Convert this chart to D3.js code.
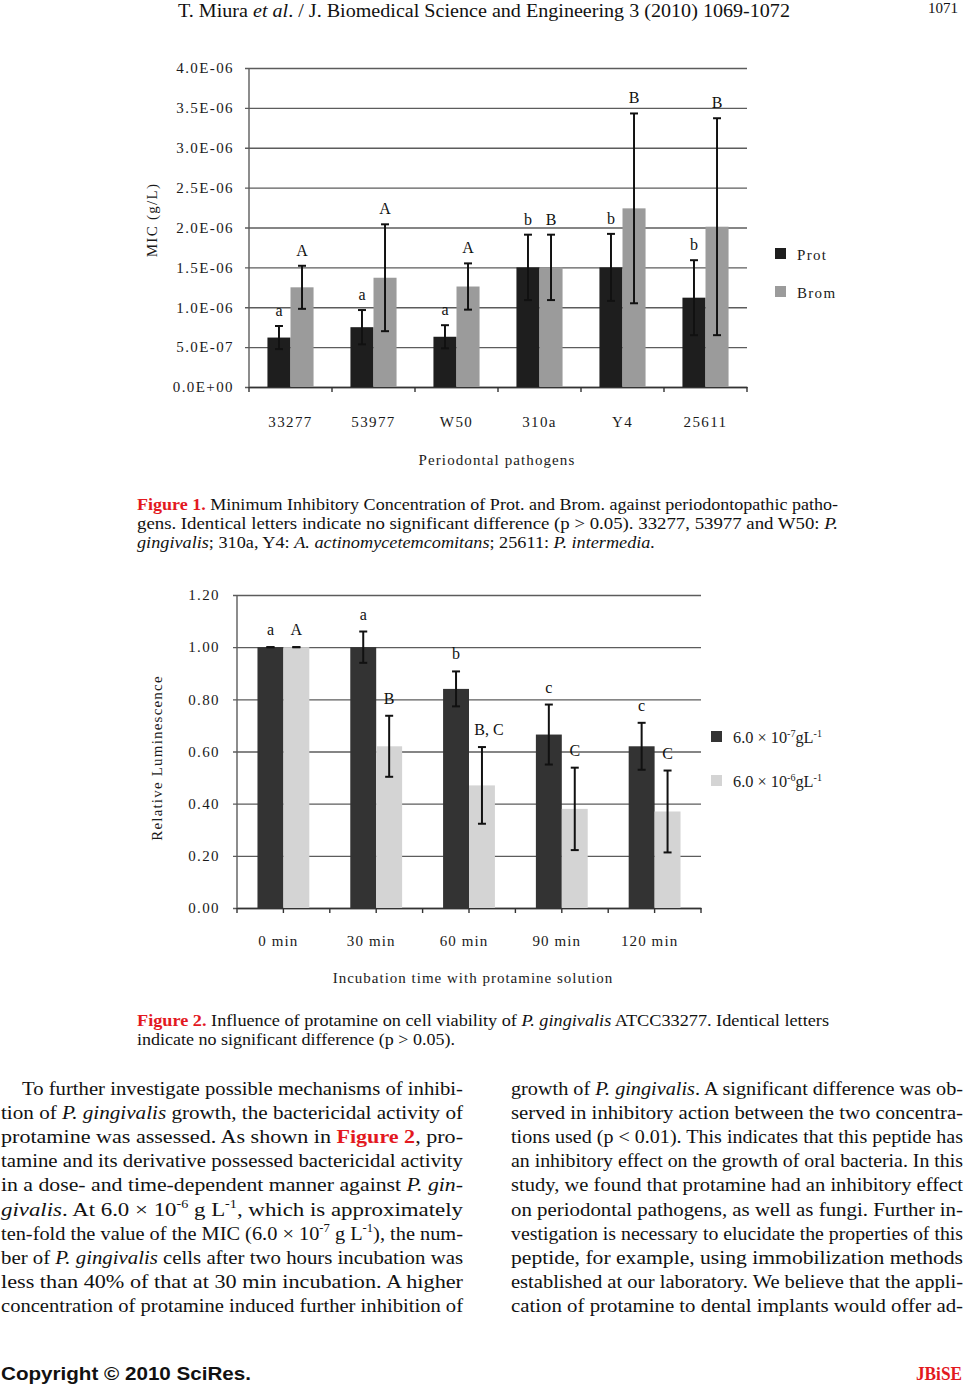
<!DOCTYPE html>
<html>
<head>
<meta charset="utf-8">
<script src="https://cdn.jsdelivr.net/npm/d3@7"></script>
<style>
html,body{margin:0;padding:0;background:#fff;}
svg{display:block;}
</style>
</head>
<body>
<script>
// ---------- Figure 1 data ----------
const strains = ["33277", "53977", "W50", "310a", "Y4", "25611"];
const seriesNames1 = ["Prot", "Brom"];
const protMIC = [6.2e-7, 7.5e-7, 6.3e-7, 1.5e-6, 1.5e-6, 1.12e-6];
const protErr = [1.45e-7, 2.15e-7, 1.45e-7, 4.1e-7, 4.2e-7, 4.7e-7];
const bromMIC = [1.25e-6, 1.37e-6, 1.26e-6, 1.5e-6, 2.24e-6, 2.01e-6];
const bromErr = [2.7e-7, 6.7e-7, 2.9e-7, 4.1e-7, 1.19e-6, 1.36e-6];
const protLetters = ["a", "a", "a", "b", "b", "b"];
const bromLetters = ["A", "A", "A", "B", "B", "B"];
const yTicks1 = [0, 5e-7, 1e-6, 1.5e-6, 2e-6, 2.5e-6, 3e-6, 3.5e-6, 4e-6];
const yTickLabels1 = ["0.0E+00", "5.0E-07", "1.0E-06", "1.5E-06", "2.0E-06", "2.5E-06", "3.0E-06", "3.5E-06", "4.0E-06"];

// ---------- Figure 2 data ----------
const times = ["0 min", "30 min", "60 min", "90 min", "120 min"];
const seriesNames2 = ["low", "high"];
const lowDose = [1.00, 1.00, 0.84, 0.665, 0.62];
const lowErr = [0, 0.06, 0.067, 0.115, 0.09];
const highDose = [1.00, 0.62, 0.47, 0.38, 0.37];
const highErr = [0, 0.117, 0.147, 0.158, 0.157];
const lowLetters = ["a", "a", "b", "c", "c"];
const highLetters = ["A", "B", "B, C", "C", "C"];
const yTicks2 = [0, 0.2, 0.4, 0.6, 0.8, 1.0, 1.2];
const yTickLabels2 = ["0.00", "0.20", "0.40", "0.60", "0.80", "1.00", "1.20"];

const SERIF = "'Liberation Serif', 'Times New Roman', serif";
const SANS = "'Liberation Sans', Arial, sans-serif";
const RED = "#e3191f";

const svg = d3.select("body").append("svg").attr("width", 967).attr("height", 1386);
svg.append("rect").attr("width", 967).attr("height", 1386).attr("fill", "#fff");

// ---------- rich text helper ----------
function richLine(g, str, x, y, size, opts) {
  opts = opts || {};
  const t = g.append("text").attr("x", x).attr("y", y)
    .attr("font-family", SERIF).attr("font-size", size).attr("fill", "#111");
  if (opts.len) t.attr("textLength", opts.len).attr("lengthAdjust", "spacingAndGlyphs");
  const parts = str.split(/(<\/?(?:i|r|sup)>)/);
  let ital = false, red = false, sup = false, pendingDown = false;
  parts.forEach(p => {
    if (p === "<i>") { ital = true; return; }
    if (p === "</i>") { ital = false; return; }
    if (p === "<r>") { red = true; return; }
    if (p === "</r>") { red = false; return; }
    if (p === "<sup>") { sup = true; return; }
    if (p === "</sup>") { sup = false; pendingDown = true; return; }
    if (!p) return;
    const ts = t.append("tspan").text(p);
    if (ital) ts.attr("font-style", "italic");
    if (red) ts.attr("fill", RED).attr("font-weight", "bold");
    if (sup) { ts.attr("font-size", size * 0.62).attr("dy", -size * 0.38); }
    else if (pendingDown) { ts.attr("dy", size * 0.38); pendingDown = false; }
  });
  return t;
}

// ---------- header ----------
richLine(svg, "T. Miura <i>et al</i>. / J. Biomedical Science and Engineering 3 (2010) 1069-1072", 178, 17, 19, {len: 612});
richLine(svg, "1071", 928, 13, 15, {len: 30});

// ---------- Figure 1 ----------
(function () {
  const g = svg.append("g");
  const L = 249, R = 747, T = 68, B = 387;
  const x = d3.scaleBand().domain(strains).range([L, R]);
  const xs = d3.scaleBand().domain(seriesNames1).range([0, x.bandwidth()]).paddingOuter(0.8).paddingInner(0);
  const y = d3.scaleLinear().domain([0, 4e-6]).range([B, T]);
  const colors = {Prot: "#1e1e1e", Brom: "#9b9b9b"};

  const ya = g.append("g").attr("transform", `translate(${L},0)`)
    .call(d3.axisLeft(y).tickValues(yTicks1).tickFormat((d, i) => yTickLabels1[i])
      .tickSize(-(R - L)).tickPadding(15).tickSizeOuter(0));
  ya.select(".domain").remove();
  ya.selectAll(".tick line").attr("x1", -4).attr("stroke", "#5c5c5c").attr("stroke-width", 1.4);
  ya.selectAll(".tick text").attr("font-family", SERIF).attr("font-size", 15)
    .attr("letter-spacing", "1.4px").attr("fill", "#1a1a1a");
  g.append("line").attr("x1", L).attr("x2", L).attr("y1", T).attr("y2", B).attr("stroke", "#5c5c5c").attr("stroke-width", 1.4);

  const xa = g.append("g").attr("transform", `translate(0,${B})`)
    .call(d3.axisBottom(x).tickSize(0).tickPadding(29));
  xa.select(".domain").attr("stroke", "#333").attr("stroke-width", 1.4);
  xa.selectAll(".tick text").attr("font-family", SERIF).attr("font-size", 15)
    .attr("letter-spacing", "1.4px").attr("fill", "#1a1a1a");
  g.selectAll(".xt1").data(strains.concat(["__end"])).enter().append("line")
    .attr("x1", d => d === "__end" ? R : x(d)).attr("x2", d => d === "__end" ? R : x(d))
    .attr("y1", B).attr("y2", B + 5).attr("stroke", "#333").attr("stroke-width", 1.4);

  const data = strains.map((s, i) => [
    {cat: s, key: "Prot", v: protMIC[i], e: protErr[i], l: protLetters[i]},
    {cat: s, key: "Brom", v: bromMIC[i], e: bromErr[i], l: bromLetters[i]}
  ]).flat();

  g.selectAll(".bar1").data(data).enter().append("rect")
    .attr("x", d => x(d.cat) + xs(d.key)).attr("width", xs.bandwidth())
    .attr("y", d => y(d.v)).attr("height", d => B - y(d.v)).attr("fill", d => colors[d.key]);

  const cx = d => x(d.cat) + xs(d.key) + xs.bandwidth() / 2;
  const eb = g.selectAll(".eb1").data(data).enter().append("g").attr("stroke", "#111").attr("stroke-width", 2);
  eb.append("line").attr("x1", cx).attr("x2", cx).attr("y1", d => y(d.v + d.e)).attr("y2", d => y(d.v - d.e));
  eb.append("line").attr("x1", d => cx(d) - 4).attr("x2", d => cx(d) + 4).attr("y1", d => y(d.v + d.e)).attr("y2", d => y(d.v + d.e));
  eb.append("line").attr("x1", d => cx(d) - 4).attr("x2", d => cx(d) + 4).attr("y1", d => y(d.v - d.e)).attr("y2", d => y(d.v - d.e));

  g.selectAll(".lt1").data(data).enter().append("text")
    .attr("x", cx).attr("y", d => y(d.v + d.e) - 10).attr("text-anchor", "middle")
    .attr("font-family", SERIF).attr("font-size", 16).attr("fill", "#111").text(d => d.l);

  g.append("text").attr("transform", "translate(157,220) rotate(-90)").attr("text-anchor", "middle")
    .attr("font-family", SERIF).attr("font-size", 15).attr("letter-spacing", "1.3px").attr("fill", "#1a1a1a").text("MIC (g/L)");
  g.append("text").attr("x", 497).attr("y", 465).attr("text-anchor", "middle")
    .attr("font-family", SERIF).attr("font-size", 15).attr("letter-spacing", "1.1px").attr("fill", "#1a1a1a").text("Periodontal pathogens");

  const lg = g.selectAll(".lg1").data(seriesNames1).enter().append("g")
    .attr("transform", (d, i) => `translate(775,${248 + i * 38})`);
  lg.append("rect").attr("width", 11).attr("height", 11).attr("fill", d => colors[d]);
  lg.append("text").attr("x", 22).attr("y", 12).attr("font-family", SERIF).attr("font-size", 15)
    .attr("letter-spacing", "1.3px").attr("fill", "#1a1a1a").text(d => d);
})();

// ---------- Figure 1 caption ----------
richLine(svg, "<r>Figure 1.</r> Minimum Inhibitory Concentration of Prot. and Brom. against periodontopathic patho-", 137, 510, 16, {len: 701});
richLine(svg, "gens. Identical letters indicate no significant difference (p > 0.05). 33277, 53977 and W50: <i>P.</i>", 137, 529, 16, {len: 701});
richLine(svg, "<i>gingivalis</i>; 310a, Y4: <i>A. actinomycetemcomitans</i>; 25611: <i>P. intermedia.</i>", 137, 548, 16, {len: 518});

// ---------- Figure 2 ----------
(function () {
  const g = svg.append("g");
  const L = 237, R = 701, T = 595, B = 908;
  const x = d3.scaleBand().domain(times).range([L, R]);
  const xs = d3.scaleBand().domain(seriesNames2).range([0, x.bandwidth()]).paddingOuter(0.79).paddingInner(0);
  const y = d3.scaleLinear().domain([0, 1.2]).range([B, T]);
  const colors = {low: "#333333", high: "#d4d4d4"};

  const ya = g.append("g").attr("transform", `translate(${L},0)`)
    .call(d3.axisLeft(y).tickValues(yTicks2).tickFormat((d, i) => yTickLabels2[i])
      .tickSize(-(R - L)).tickPadding(17).tickSizeOuter(0));
  ya.select(".domain").remove();
  ya.selectAll(".tick line").attr("x1", -4).attr("stroke", "#5c5c5c").attr("stroke-width", 1.4);
  ya.selectAll(".tick text").attr("font-family", SERIF).attr("font-size", 15)
    .attr("letter-spacing", "1.4px").attr("fill", "#1a1a1a");
  g.append("line").attr("x1", L).attr("x2", L).attr("y1", T).attr("y2", B).attr("stroke", "#5c5c5c").attr("stroke-width", 1.4);

  const xa = g.append("g").attr("transform", `translate(0,${B})`)
    .call(d3.axisBottom(x).tickSize(0).tickPadding(27));
  xa.select(".domain").attr("stroke", "#333").attr("stroke-width", 1.4);
  xa.selectAll(".tick text").attr("font-family", SERIF).attr("font-size", 15).attr("dx", -5)
    .attr("letter-spacing", "1.1px").attr("fill", "#1a1a1a");
  const tickPos = [];
  times.forEach(t => { tickPos.push(x(t)); tickPos.push(x(t) + x.bandwidth() / 2); });
  tickPos.push(R);
  g.selectAll(".xt2").data(tickPos).enter().append("line")
    .attr("x1", d => d).attr("x2", d => d).attr("y1", B).attr("y2", B + 5).attr("stroke", "#333").attr("stroke-width", 1.4);

  const data = times.map((t, i) => [
    {cat: t, key: "low", v: lowDose[i], e: lowErr[i], l: lowLetters[i]},
    {cat: t, key: "high", v: highDose[i], e: highErr[i], l: highLetters[i]}
  ]).flat();

  g.selectAll(".bar2").data(data).enter().append("rect")
    .attr("x", d => x(d.cat) + xs(d.key)).attr("width", xs.bandwidth())
    .attr("y", d => y(d.v)).attr("height", d => B - y(d.v)).attr("fill", d => colors[d.key]);

  const cx = d => x(d.cat) + xs(d.key) + xs.bandwidth() / 2;
  const eb = g.selectAll(".eb2").data(data).enter().append("g").attr("stroke", "#111").attr("stroke-width", 2);
  eb.append("line").attr("x1", cx).attr("x2", cx).attr("y1", d => y(d.v + d.e)).attr("y2", d => y(d.v - d.e));
  eb.append("line").attr("x1", d => cx(d) - 4).attr("x2", d => cx(d) + 4).attr("y1", d => y(d.v + d.e)).attr("y2", d => y(d.v + d.e));
  eb.append("line").attr("x1", d => cx(d) - 4).attr("x2", d => cx(d) + 4).attr("y1", d => y(d.v - d.e)).attr("y2", d => y(d.v - d.e));

  g.selectAll(".lt2").data(data).enter().append("text")
    .attr("x", d => cx(d) + (d.l.length > 1 ? 7 : 0)).attr("y", d => y(d.v + d.e) - 12).attr("text-anchor", "middle")
    .attr("font-family", SERIF).attr("font-size", 16).attr("fill", "#111").text(d => d.l);

  g.append("text").attr("transform", "translate(162,758) rotate(-90)").attr("text-anchor", "middle")
    .attr("font-family", SERIF).attr("font-size", 15).attr("letter-spacing", "1.2px").attr("fill", "#1a1a1a").text("Relative Luminescence");
  g.append("text").attr("x", 473).attr("y", 983).attr("text-anchor", "middle")
    .attr("font-family", SERIF).attr("font-size", 15).attr("letter-spacing", "1px").attr("fill", "#1a1a1a").text("Incubation time with protamine solution");

  const legendText = {low: "6.0 × 10<sup>-7</sup>gL<sup>-1</sup>", high: "6.0 × 10<sup>-6</sup>gL<sup>-1</sup>"};
  seriesNames2.forEach((k, i) => {
    const ly = 731 + i * 44;
    g.append("rect").attr("x", 711).attr("y", ly).attr("width", 11).attr("height", 11).attr("fill", colors[k]);
    richLine(g, legendText[k], 733, ly + 12, 16, {len: 89}).attr("fill", "#1a1a1a");
  });
})();

// ---------- Figure 2 caption ----------
richLine(svg, "<r>Figure 2.</r> Influence of protamine on cell viability of <i>P. gingivalis</i> ATCC33277. Identical letters", 137, 1026, 16, {len: 692});
richLine(svg, "indicate no significant difference (p > 0.05).", 137, 1045, 16, {len: 318});

// ---------- body text ----------
const leftLines = [
  "To further investigate possible mechanisms of inhibi-",
  "tion of <i>P. gingivalis</i> growth, the bactericidal activity of",
  "protamine was assessed. As shown in <r>Figure 2</r>, pro-",
  "tamine and its derivative possessed bactericidal activity",
  "in a dose- and time-dependent manner against <i>P. gin-</i>",
  "<i>givalis</i>. At 6.0 × 10<sup>-6</sup> g L<sup>-1</sup>, which is approximately",
  "ten-fold the value of the MIC (6.0 × 10<sup>-7</sup> g L<sup>-1</sup>), the num-",
  "ber of <i>P. gingivalis</i> cells after two hours incubation was",
  "less than 40% of that at 30 min incubation. A higher",
  "concentration of protamine induced further inhibition of"
];
const rightLines = [
  "growth of <i>P. gingivalis</i>. A significant difference was ob-",
  "served in inhibitory action between the two concentra-",
  "tions used (p < 0.01). This indicates that this peptide has",
  "an inhibitory effect on the growth of oral bacteria. In this",
  "study, we found that protamine had an inhibitory effect",
  "on periodontal pathogens, as well as fungi. Further in-",
  "vestigation is necessary to elucidate the properties of this",
  "peptide, for example, using immobilization methods",
  "established at our laboratory. We believe that the appli-",
  "cation of protamine to dental implants would offer ad-"
];
leftLines.forEach((s, i) => {
  const x0 = i === 0 ? 22 : 1;
  richLine(svg, s, x0, 1095 + i * 24.1, 19.5, {len: 463 - x0});
});
rightLines.forEach((s, i) => {
  richLine(svg, s, 511, 1095 + i * 24.1, 19.5, {len: 452});
});

// ---------- footer ----------
svg.append("text").attr("x", 1).attr("y", 1380).attr("font-family", SANS).attr("font-weight", "bold")
  .attr("font-size", 19).attr("textLength", 250).attr("lengthAdjust", "spacingAndGlyphs").attr("fill", "#111")
  .text("Copyright © 2010 SciRes.");
svg.append("text").attr("x", 916).attr("y", 1380).attr("font-family", SERIF).attr("font-weight", "bold")
  .attr("font-size", 19).attr("textLength", 46).attr("lengthAdjust", "spacingAndGlyphs").attr("fill", RED)
  .text("JBiSE");
</script>
</body>
</html>
